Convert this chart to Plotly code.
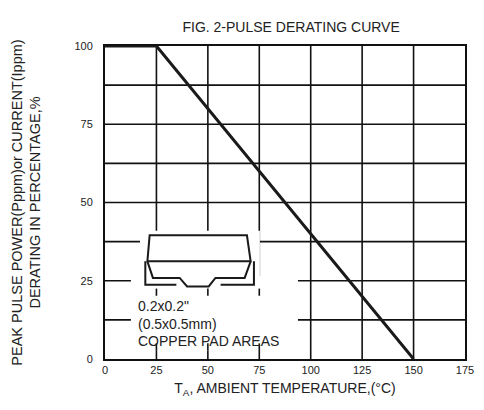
import plotly.graph_objects as go

temp = [0, 25, 150]
derating = [100, 100, 0]
x_ticks = [0, 25, 50, 75, 100, 125, 150, 175]
y_ticks = [0, 25, 50, 75, 100]
pad_text = ["0.2x0.2\"", "(0.5x0.5mm)", "COPPER PAD AREAS"]

fig = go.Figure()
fig.add_trace(go.Scatter(x=temp, y=derating, mode="lines",
                         line=dict(color="#1a1a1a", width=3), hoverinfo="skip"))

shapes = []
for v in [12.5, 25, 37.5, 50, 62.5, 75, 87.5]:
    shapes.append(dict(type="line", xref="x", yref="y", x0=0, x1=175, y0=v, y1=v,
                       line=dict(color="#111", width=1.6), layer="below"))
for v in [25, 50, 75, 100, 125, 150]:
    shapes.append(dict(type="line", xref="x", yref="y", x0=v, x1=v, y0=0, y1=100,
                       line=dict(color="#111", width=1.6), layer="below"))
shapes.append(dict(type="rect", x0=17, x1=75.3, y0=23, y1=41, fillcolor="white",
                   line=dict(width=0), layer="below"))
shapes.append(dict(type="rect", x0=12.6, x1=93.8, y0=2.6, y1=26.5, fillcolor="white",
                   line=dict(width=0), layer="below"))
for v in [25, 50, 75]:
    for (a, b) in [(20.2, 22.5), (2.6, 5.0)]:
        shapes.append(dict(type="line", x0=v, x1=v, y0=a, y1=b,
                           line=dict(color="#111", width=1.6), layer="below"))
pk = dict(color="#1a1a1a", width=2)
shapes.append(dict(type="path", path="M21.7,39.5 L69.0,39.5 L70.8,31.2 L20.6,31.2 Z", line=pk))
shapes.append(dict(type="path", path="M19.6,31.2 L19.6,23.7 L34.7,23.7", line=pk))
shapes.append(dict(type="path", path="M56.2,23.7 L72.4,23.7 L72.4,31.2", line=pk))
shapes.append(dict(type="path",
                   path="M20.6,31.2 L23.3,25.9 L36.3,25.9 L39.9,23.2 L50.4,23.2 L53.7,25.9 L67.9,25.9 L70.8,31.2",
                   line=pk))

for i, t in enumerate(pad_text):
    fig.add_annotation(x=15.1, y=16.8 - i * 5.6, xref="x", yref="y", xanchor="left",
                       yanchor="middle", showarrow=False, text=t,
                       font=dict(family="Liberation Sans, Arial", size=14, color="#222"))

fig.update_layout(
    width=484, height=410, margin=dict(l=97, r=27, t=38, b=59),
    paper_bgcolor="white", plot_bgcolor="white", showlegend=False,
    shapes=shapes,
    font=dict(family="Liberation Sans, Arial", color="#222", size=11),
    title=dict(text="FIG. 2-PULSE DERATING CURVE", x=0.585, y=0.965, xanchor="center",
               font=dict(size=14, color="#222")),
    xaxis=dict(range=[0, 175], tickvals=x_ticks, showgrid=False, zeroline=False,
               showline=True, linecolor="#111", linewidth=2, mirror=True, ticks="",
               tickfont=dict(size=11), automargin=False,
               title=dict(text="T<sub>A</sub>, AMBIENT TEMPERATURE,(°C)", font=dict(size=14), standoff=8)),
    yaxis=dict(range=[0, 100], tickvals=y_ticks, showgrid=False, zeroline=False,
               showline=True, linecolor="#111", linewidth=2, mirror=True, ticks="",
               tickfont=dict(size=11), ticklabelstandoff=8, automargin=False,
               title=dict(text="PEAK PULSE POWER(Pppm)or CURRENT(Ippm)<br>DERATING IN PERCENTAGE,%",
                          font=dict(size=14.5), standoff=30)),
)
fig.write_html("out.html")
